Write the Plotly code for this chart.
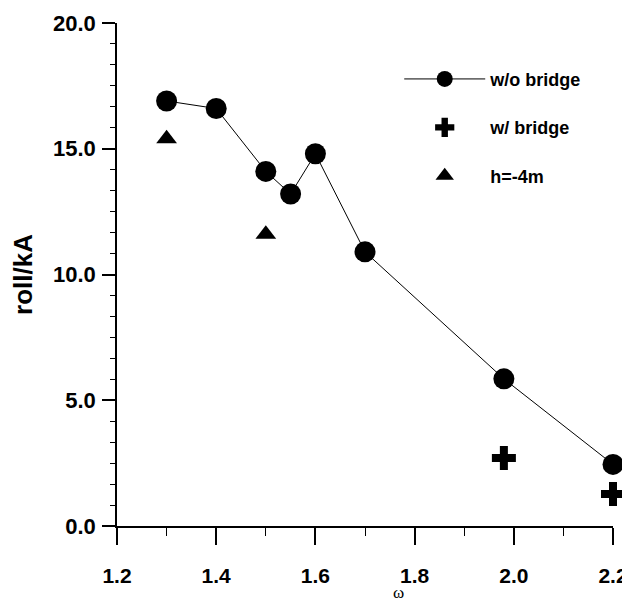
import plotly.graph_objects as go

# Data
omega_wo = [1.3, 1.4, 1.5, 1.55, 1.6, 1.7, 1.98, 2.2]
roll_wo = [16.9, 16.6, 14.1, 13.2, 14.8, 10.9, 5.85, 2.45]

omega_w = [1.98, 2.2]
roll_w = [2.7, 1.27]

omega_h = [1.3, 1.5]
roll_h = [15.4, 11.6]

x_ticks = [1.2, 1.4, 1.6, 1.8, 2.0, 2.2]
x_ticklabels = ["1.2", "1.4", "1.6", "1.8", "2.0", "2.2"]
y_ticks = [0, 5, 10, 15, 20]
y_ticklabels = ["0.0", "5.0", "10.0", "15.0", "20.0"]

FONT = "Liberation Sans, Arial, sans-serif"

fig = go.Figure()
fig.add_trace(go.Scatter(
    x=omega_wo, y=roll_wo, mode="lines+markers", name="w/o bridge",
    line=dict(color="black", width=1),
    marker=dict(symbol="circle", size=21, color="black"),
    cliponaxis=False, legendgroup="a",
))
fig.add_trace(go.Scatter(
    x=omega_w, y=roll_w, mode="markers", name="w/ bridge",
    marker=dict(symbol="cross", size=20, color="black"),
    cliponaxis=False, legendgroup="b",
))
fig.add_trace(go.Scatter(
    x=omega_h, y=roll_h, mode="markers", name="h=-4m",
    marker=dict(symbol="triangle-up", size=18, color="black"),
    cliponaxis=False, legendgroup="c",
))

fig.update_layout(
    width=630, height=598,
    margin=dict(l=109, r=25, t=15, b=80),
    paper_bgcolor="white", plot_bgcolor="white",
    font=dict(family=FONT, color="black"),
    showlegend=True,
    legend=dict(
        x=0.569, y=0.925, xanchor="left", yanchor="top",
        bgcolor="rgba(0,0,0,0)", font=dict(size=18, family=FONT, weight="bold"),
        tracegroupgap=22, traceorder="grouped", itemwidth=81,
    ),
    xaxis=dict(
        range=[1.2, 2.2], tickvals=x_ticks, ticktext=x_ticklabels, automargin=False,
        showline=True, linecolor="black", linewidth=1.5, showgrid=False, zeroline=False,
        ticks="outside", ticklen=17, tickwidth=1.5, tickcolor="black",
        ticklabelstandoff=13,
        tickfont=dict(size=21, family=FONT, weight="bold"),
        minor=dict(dtick=0.1, tick0=1.2, ticks="outside", ticklen=8, tickcolor="black", tickwidth=1.2),
    ),
    yaxis=dict(
        range=[0, 20], tickvals=y_ticks, ticktext=y_ticklabels, automargin=False,
        showline=True, linecolor="black", linewidth=1.5, showgrid=False, zeroline=False,
        ticks="outside", ticklen=13, tickwidth=1.5, tickcolor="black",
        ticklabelstandoff=2,
        tickfont=dict(size=22, family=FONT, weight="bold"),
        minor=dict(dtick=5/6, tick0=0, ticks="outside", ticklen=5, tickcolor="black", tickwidth=1.2),
        title=dict(text="roll/kA", font=dict(size=26, family=FONT, weight="bold"), standoff=25),
    ),
    annotations=[dict(
        text="ω", xref="paper", yref="paper", x=(398 - 117) / 496, y=-0.133,
        showarrow=False, font=dict(size=17, family="Liberation Serif, Times New Roman"),
        xanchor="center", yanchor="middle",
    )],
)

fig.write_html("out.html")
